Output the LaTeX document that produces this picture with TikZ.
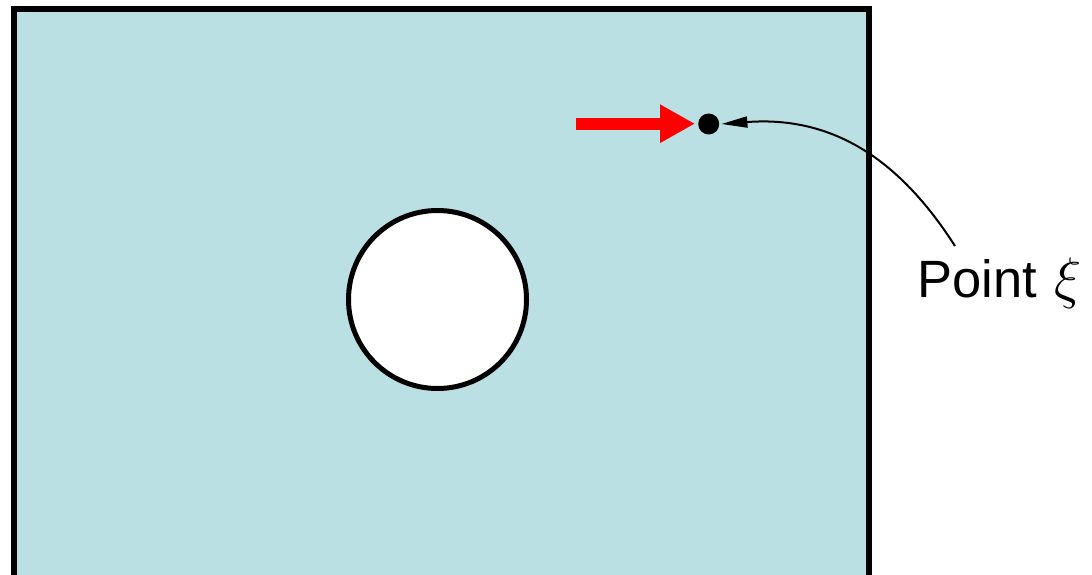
\RequirePackage{fix-cm}
\documentclass[tikz,border=0pt]{standalone}
\usepackage{fontspec}
\setmainfont{Liberation Sans}
\usetikzlibrary{arrows.meta}
\definecolor{plate}{RGB}{186,224,227}
\tikzset{
  platebox/.style={draw=black, line width=6pt, fill=plate},
  hole/.style={draw=black, line width=5pt, fill=white},
  dotnode/.style={circle, fill=black, inner sep=0pt, minimum size=21pt},
  leader/.style={line width=2pt, -{Triangle[length=26pt,width=11pt]}},
  loadarrow/.style={draw=red, line width=12pt, -{Triangle[length=35pt,width=36pt]}},
  lbl/.style={inner sep=0pt, font=\fontsize{52.5}{60}\selectfont}
}
\begin{document}
\begin{tikzpicture}[x=1pt,y=-1pt]
\useasboundingbox (0,0) rectangle (1092,575);
\begin{scope}
\clip (0,0) rectangle (1092,575);
\draw[platebox] (14.3,9.2) rectangle (868.7,600);
\end{scope}
\draw[hole] (437.5,299.5) circle[radius=89];
\node[dotnode] (pt) at (708.7,124) {};
\coordinate (redstart) at (575.7,123.7);
\draw[loadarrow, shorten >=3pt] (redstart) -- (pt.west |- redstart);
\node[lbl, anchor=base west] (label) at (917.5,297) {Point\hspace{17pt}{\fontsize{57}{60}\selectfont$\xi$}};
\coordinate (lstart) at (955,246);
\draw[leader] (lstart) .. controls (905,168) and (840,115) .. ([xshift=2pt]pt.east);
\end{tikzpicture}
\end{document}
